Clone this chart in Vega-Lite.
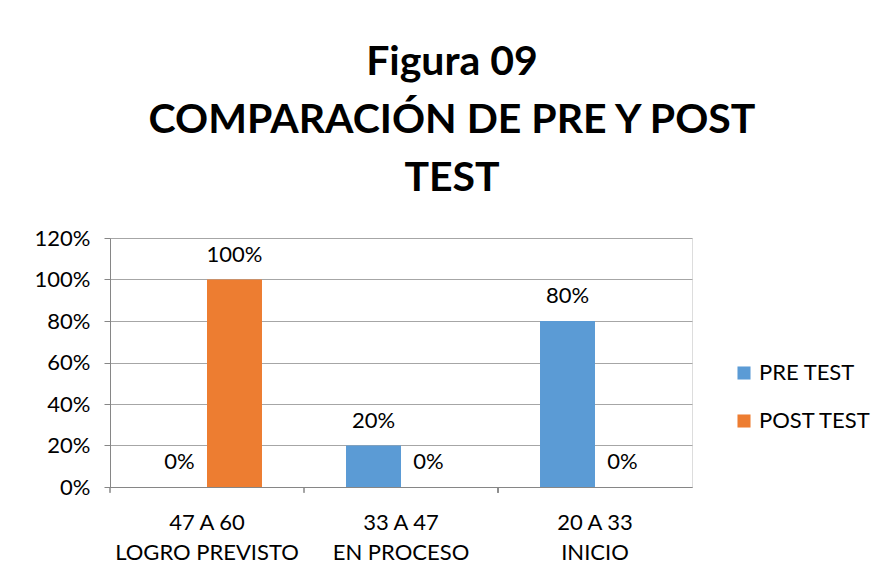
{
  "$schema": "https://vega.github.io/schema/vega-lite/v6.json",
  "width": 582,
  "height": 249,
  "autosize": {"type": "none"},
  "padding": {"left": 110, "top": 238, "right": 193, "bottom": 93},
  "background": "white",
  "title": {
    "text": ["Figura 09", "COMPARACIÓN DE PRE Y POST", "TEST"],
    "font": "Lato",
    "fontSize": 41,
    "fontWeight": "bold",
    "lineHeight": 58,
    "color": "black",
    "anchor": "middle",
    "dx": 51,
    "offset": 27
  },
  "data": {
    "values": [
      {"cat": "47 A 60\nLOGRO PREVISTO", "serie": "PRE TEST", "v": 0},
      {"cat": "47 A 60\nLOGRO PREVISTO", "serie": "POST TEST", "v": 1.0},
      {"cat": "33 A 47\nEN PROCESO", "serie": "PRE TEST", "v": 0.2},
      {"cat": "33 A 47\nEN PROCESO", "serie": "POST TEST", "v": 0},
      {"cat": "20 A 33\nINICIO", "serie": "PRE TEST", "v": 0.8},
      {"cat": "20 A 33\nINICIO", "serie": "POST TEST", "v": 0}
    ]
  },
  "encoding": {
    "x": {
      "field": "cat",
      "type": "nominal",
      "sort": null,
      "scale": {"paddingInner": 0, "paddingOuter": 0},
      "axis": {
        "title": null,
        "labelAngle": 0,
        "labelExpr": "split(datum.label, '\\n')",
        "labelFont": "Lato",
        "labelFontSize": 22,
        "labelLineHeight": 30,
        "labelColor": "black",
        "labelPadding": 25,
        "labelLimit": 0,
        "ticks": false,
        "domainColor": "#868686",
        "grid": false
      }
    },
    "xOffset": {
      "field": "serie",
      "type": "nominal",
      "sort": ["PRE TEST", "POST TEST"],
      "scale": {"paddingInner": 0, "paddingOuter": 0.764}
    },
    "y": {
      "field": "v",
      "type": "quantitative",
      "scale": {"domain": [0, 1.2], "nice": false},
      "axis": {
        "title": null,
        "format": ".0%",
        "values": [0, 0.2, 0.4, 0.6, 0.8, 1.0, 1.2],
        "labelFont": "Lato",
        "labelFontSize": 22,
        "labelColor": "black",
        "labelPadding": 14,
        "tickSize": 6,
        "tickColor": "#868686",
        "domainColor": "#868686",
        "gridColor": "#A6A6A6",
        "grid": true
      }
    }
  },
  "layer": [
    {
      "mark": {"type": "bar"},
      "encoding": {
        "color": {
          "field": "serie",
          "type": "nominal",
          "sort": ["PRE TEST", "POST TEST"],
          "scale": {"domain": ["PRE TEST", "POST TEST"], "range": ["#5B9BD5", "#ED7D31"]},
          "legend": {
            "title": null,
            "orient": "none",
            "legendX": 623,
            "legendY": 124,
            "symbolType": "square",
            "symbolSize": 170,
            "symbolStrokeWidth": 0,
            "labelFont": "Lato",
            "labelFontSize": 22,
            "labelColor": "black",
            "labelOffset": 4,
            "labelLimit": 0,
            "rowPadding": 26
          }
        }
      }
    },
    {
      "mark": {"type": "text", "font": "Lato", "fontSize": 22, "color": "black", "baseline": "middle", "dy": -25},
      "encoding": {
        "text": {"field": "v", "type": "quantitative", "format": ".0%"}
      }
    },
    {
      "mark": {"type": "rule", "color": "#868686", "strokeWidth": 1},
      "encoding": {
        "x": {"field": "cat", "type": "nominal", "sort": null, "bandPosition": 0},
        "xOffset": {"value": 0},
        "y": {"datum": 0},
        "y2": {"datum": -0.028}
      }
    },
    {
      "transform": [{"filter": "datum.cat == '20 A 33\\nINICIO'"}],
      "mark": {"type": "rule", "color": "#868686", "strokeWidth": 1},
      "encoding": {
        "x": {"field": "cat", "type": "nominal", "sort": null, "bandPosition": 1},
        "xOffset": {"value": 0},
        "y": {"datum": 0},
        "y2": {"datum": -0.028}
      }
    }
  ]
}
